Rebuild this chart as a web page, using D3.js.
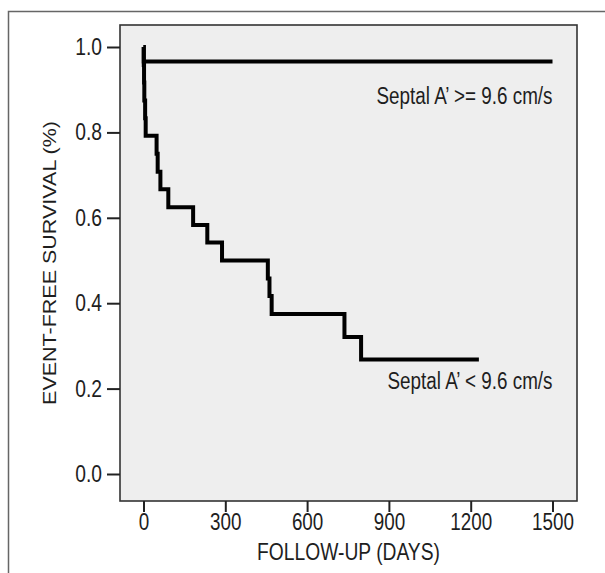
<!DOCTYPE html>
<html>
<head>
<meta charset="utf-8">
<script src="https://cdn.jsdelivr.net/npm/d3@7"></script>
<style>
  html, body { margin: 0; padding: 0; background: #ffffff; }
  svg { display: block; }
  text { font-family: "Liberation Sans", Arial, sans-serif; fill: #1e1e1e; }
</style>
</head>
<body>
<svg id="chart" width="605" height="573"></svg>
<script>
// Kaplan–Meier step curves: follow-up day and event-free survival fraction
const highDays = [0, 1, 1500];
const highSurv = [1.0, 0.966, 0.966];

const lowDays = [0, 1, 2, 3, 6, 8, 48, 52, 62, 91, 182, 234, 288, 456, 462, 470, 737, 798, 1230];
const lowSurv = [1.0, 0.958, 0.917, 0.875, 0.833, 0.792, 0.75, 0.708, 0.667, 0.625, 0.583, 0.542, 0.5, 0.458, 0.417, 0.375, 0.321, 0.268, 0.268];

const seriesLabels = ["Septal A\u2019 >= 9.6 cm/s", "Septal A\u2019 < 9.6 cm/s"];

const xTicks = [0, 300, 600, 900, 1200, 1500];
const yTicks = [0.0, 0.2, 0.4, 0.6, 0.8, 1.0];

const xTitle = "FOLLOW-UP (DAYS)";
const yTitle = "EVENT-FREE SURVIVAL (%)";

const svg = d3.select("#chart");
const squeeze = 0.82; // horizontal condensing of the lettering

// outer frame (left and top edges visible)
svg.append("rect")
  .attr("x", 8.5).attr("y", 11.5)
  .attr("width", 640).attr("height", 600)
  .attr("fill", "none").attr("stroke", "#666").attr("stroke-width", 1.5);

const frame = { left: 120, top: 25, right: 577, bottom: 501 };

const x = d3.scaleLinear().domain([0, 1500]).range([143.5, 552.5]);
const y = d3.scaleLinear().domain([0, 1]).range([474, 47]);

// plot panel
svg.append("rect")
  .attr("x", frame.left).attr("y", frame.top)
  .attr("width", frame.right - frame.left)
  .attr("height", frame.bottom - frame.top)
  .attr("fill", "#eeeeee")
  .attr("stroke", "#333").attr("stroke-width", 1.6);

// y axis
const yAxis = svg.append("g")
  .attr("transform", `translate(${frame.left},0)`)
  .call(d3.axisLeft(y).tickValues(yTicks).tickFormat(d3.format(".1f")).tickSize(13).tickPadding(5));
yAxis.select(".domain").remove();
yAxis.selectAll(".tick line").attr("stroke", "#222").attr("stroke-width", 2);
yAxis.selectAll(".tick text")
  .attr("x", 0)
  .attr("transform", `translate(-18,0) scale(${squeeze},1)`)
  .style("font-size", "23.5px")
  .style("font-family", "'Liberation Sans', Arial, sans-serif")
  .attr("fill", "#1e1e1e");

// x axis
const xAxis = svg.append("g")
  .attr("transform", `translate(0,${frame.bottom})`)
  .call(d3.axisBottom(x).tickValues(xTicks).tickFormat(d3.format("d")).tickSize(11).tickPadding(2));
xAxis.select(".domain").remove();
xAxis.selectAll(".tick line").attr("stroke", "#222").attr("stroke-width", 2);
xAxis.selectAll(".tick text")
  .attr("transform", `scale(${squeeze},1)`)
  .style("font-size", "23px")
  .style("font-family", "'Liberation Sans', Arial, sans-serif")
  .attr("fill", "#1e1e1e");

// axis titles
svg.append("text")
  .attr("transform", `translate(${(frame.left + frame.right) / 2},560) scale(${squeeze},1)`)
  .attr("text-anchor", "middle")
  .style("font-size", "23.5px")
  .text(xTitle);

svg.append("text")
  .attr("transform", `translate(56,${(frame.top + frame.bottom) / 2}) scale(${squeeze},1) rotate(-90)`)
  .attr("text-anchor", "middle")
  .style("font-size", "21.5px")
  .text(yTitle);

// survival curves
const step = d3.line()
  .x(d => x(d[0]))
  .y(d => y(d[1]))
  .curve(d3.curveStepAfter);

const curves = [
  d3.zip(highDays, highSurv),
  d3.zip(lowDays, lowSurv)
];

svg.selectAll("path.km")
  .data(curves)
  .join("path")
  .attr("class", "km")
  .attr("d", step)
  .attr("fill", "none")
  .attr("stroke", "#000")
  .attr("stroke-width", 4)
  .attr("stroke-linejoin", "miter")
  .attr("stroke-linecap", "butt");

// curve labels, right-aligned under each curve's end
const labelPos = [
  { x: 1500, base: 104 },
  { x: 1500, base: 389 }
];
svg.selectAll("text.series")
  .data(seriesLabels)
  .join("text")
  .attr("class", "series")
  .attr("transform", (d, i) => `translate(${x(labelPos[i].x)},${labelPos[i].base}) scale(${squeeze},1)`)
  .attr("text-anchor", "end")
  .style("font-size", "23px")
  .text(d => d);
</script>
</body>
</html>
